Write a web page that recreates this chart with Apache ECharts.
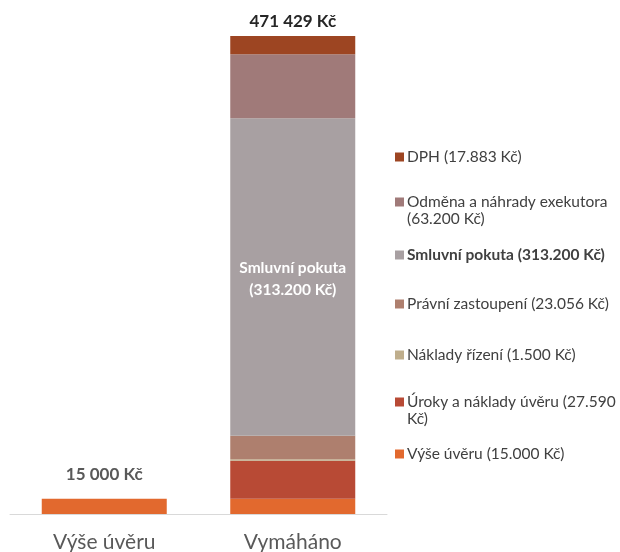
<!DOCTYPE html>
<html>
<head>
<meta charset="utf-8">
<script src="https://cdn.jsdelivr.net/npm/echarts@6/dist/echarts.min.js"></script>
<style>
  html, body { margin: 0; padding: 0; background: #fff; }
  #main { width: 620px; height: 552px; }
</style>
</head>
<body>
<div id="main"></div>
<script>
const categories = ["Výše úvěru", "Vymáháno"];

// stacked from bottom to top
const seriesNames = ["Výše úvěru", "Úroky a náklady úvěru", "Náklady řízení", "Právní zastoupení", "Smluvní pokuta", "Odměna a náhrady exekutora", "DPH"];
const seriesValues = [
  [15000, 15000],
  [0, 37590],
  [0, 1500],
  [0, 23056],
  [0, 313200],
  [0, 63200],
  [0, 17883],
];
const legendLabels = [
  "Výše úvěru (15.000 Kč)",
  "Úroky a náklady úvěru (27.590\nKč)",
  "Náklady řízení (1.500 Kč)",
  "Právní zastoupení (23.056 Kč)",
  "Smluvní pokuta (313.200 Kč)",
  "Odměna a náhrady exekutora\n(63.200 Kč)",
  "DPH (17.883 Kč)",
];
const totalLabels = ["15 000 Kč", "471 429 Kč"];
const innerLabel = "Smluvní pokuta\n(313.200 Kč)";

const colors = ["#E2692E", "#B84A35", "#BFAE8C", "#AE7F6E", "#A8A0A2", "#A07A79", "#9D4522"];
// legend first-line centres, bottom series first
const legendCenters = [450, 402, 351, 300, 251, 202, 153];

const font = "Lato, 'Open Sans', sans-serif";
const legendLine = 17;

let series = seriesNames.map(function (name, i) {
  let s = {
    name: name,
    type: "bar",
    stack: "total",
    barWidth: 125,
    itemStyle: { color: colors[i] },
    data: seriesValues[i],
  };
  if (name === "Smluvní pokuta") {
    s.data = seriesValues[i].map(function (v, j) {
      if (j !== 1) return v;
      return {
        value: v,
        label: {
          show: true,
          position: "inside",
          offset: [0, 2],
          formatter: innerLabel,
          color: "#fff",
          fontFamily: font,
          fontWeight: "bold",
          fontSize: 15.5,
          lineHeight: 22,
        },
      };
    });
  }
  return s;
});

series.push({
  name: "Celkem",
  type: "bar",
  stack: "total",
  barWidth: 125,
  itemStyle: { color: "transparent" },
  data: [
    { value: 0, label: { distance: 16, color: "#595959" } },
    { value: 0, label: { distance: 6, color: "#262626" } },
  ],
  label: {
    show: true,
    position: "top",
    fontFamily: font,
    fontWeight: "bold",
    fontSize: 17,
    formatter: function (p) {
      return totalLabels[p.dataIndex];
    },
  },
});

let legends = seriesNames.map(function (name, i) {
  let multi = legendLabels[i].indexOf("\n") >= 0;
  // two-line entries: a blank line on top keeps the icon level with the first line
  let text = multi ? " \n" + legendLabels[i] : legendLabels[i];
  let top = multi ? legendCenters[i] - legendLine * 1.5 : legendCenters[i] - 4.5;
  return {
    data: [name],
    left: 395,
    top: top,
    orient: "vertical",
    padding: 0,
    itemWidth: 9,
    itemHeight: 9,
    itemGap: 0,
    selectedMode: false,
    icon: "rect",
    formatter: function () {
      return text;
    },
    textStyle: {
      fontFamily: font,
      fontSize: 15.5,
      color: "#404040",
      lineHeight: legendLine,
      fontWeight: name === "Smluvní pokuta" ? "bold" : "normal",
      padding: [0, 0, 0, -2],
    },
  };
});

let option = {
  animation: false,
  textStyle: { fontFamily: font },
  grid: {
    left: 10,
    width: 377,
    top: 36,
    bottom: 38,
    outerBoundsMode: "none",
  },
  legend: legends,
  xAxis: {
    type: "category",
    data: categories,
    axisLine: { lineStyle: { color: "#D9D9D9" } },
    axisTick: { show: false },
    axisLabel: {
      color: "#595959",
      fontSize: 21,
      fontFamily: font,
      margin: 18,
    },
  },
  yAxis: {
    type: "value",
    min: 0,
    max: 471429,
    show: false,
    splitLine: { show: false },
  },
  series: series,
};

let chartDom = document.getElementById("main");
let myChart = echarts.init(chartDom);
option && myChart.setOption(option);
</script>
</body>
</html>
